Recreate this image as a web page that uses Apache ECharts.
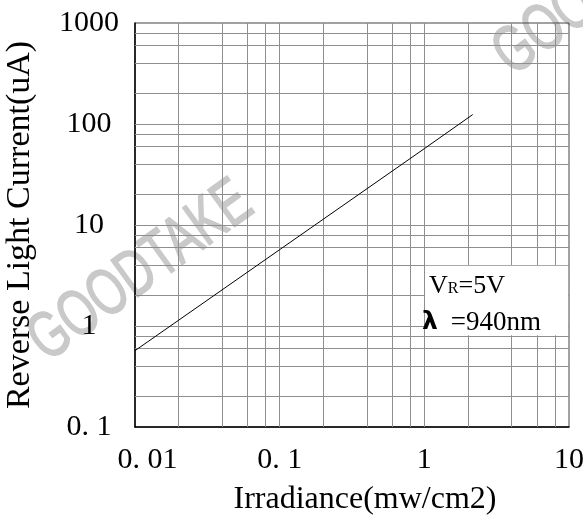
<!DOCTYPE html>
<html>
<head>
<meta charset="utf-8">
<script src="https://cdn.jsdelivr.net/npm/echarts@6/dist/echarts.min.js"></script>
<style>html,body{margin:0;padding:0;background:#fff;}#c{width:583px;height:515px;}</style>
</head>
<body>
<div id="c"></div>
<script>
// ---- data ----
const xTicks = [0.01, 0.1, 1, 10];
const xTickLabels = ['0. 01', '0. 1', '1', '10'];
const yTicks = [0.1, 1, 10, 100, 1000];
const yTickLabels = ['0. 1', '1', '10', '100', '1000'];
const xGridValues = [0.02, 0.04, 0.06, 0.08, 0.1, 0.2, 0.4, 0.6, 0.8, 1, 2, 4, 6, 8];
const yGridValues = [0.2, 0.4, 0.6, 0.8, 1, 2, 4, 6, 8, 10, 20, 40, 60, 80, 100, 200, 400, 600, 800];
const irradiance = [0.01, 0.1, 1, 2.16];
const current = [0.57, 5.7, 57, 124];
const xTitle = 'Irradiance(mw/cm2)';
const yTitle = 'Reverse Light Current(uA)';
const noteBox = [[1.012, 0.81], [9.85, 3.95]];
const watermark = 'GOODTAKE';

const SERIF = '"Liberation Serif", "Times New Roman", serif';
function idxOf(ticks, v) {
  return ticks.findIndex(t => Math.abs(Math.log10(t) - Math.log10(v)) < 1e-6);
}
const wmStyle = {text: watermark, x: 0, y: 0, align: 'center', verticalAlign: 'middle',
  fill: '#c9c9c9', stroke: '#c9c9c9', lineWidth: 1.6, fontSize: 66,
  fontFamily: '"Liberation Sans", Arial, sans-serif'};

const chart = echarts.init(document.getElementById('c'), null, {renderer: 'canvas'});
chart.setOption({
  animation: false,
  backgroundColor: '#fff',
  grid: {left: 135, right: 14, top: 23, bottom: 88, show: true, borderColor: '#444', borderWidth: 1,
    containLabel: false, outerBoundsMode: 'none'},
  xAxis: {
    type: 'log', logBase: 10, min: 0.01, max: 10,
    axisLine: {show: true, lineStyle: {color: '#000', width: 1.5}},
    axisTick: {show: false},
    splitLine: {show: false},
    axisLabel: {
      fontFamily: SERIF, fontSize: 30, color: '#000', margin: 33, verticalAlign: 'middle',
      formatter: v => { const i = idxOf(xTicks, v); if (i < 0) return ''; return i === 0 ? '{m|' + xTickLabels[i] + '}' : xTickLabels[i]; },
      rich: {m: {fontFamily: SERIF, fontSize: 30, color: '#000', padding: [0, 0, 0, 25]}}
    },
    name: xTitle, nameLocation: 'middle', nameGap: 57,
    nameTextStyle: {fontFamily: SERIF, fontSize: 32, color: '#000', padding: [0, 0, 0, 26]}
  },
  yAxis: {
    type: 'log', logBase: 10, min: 0.1, max: 1000,
    axisLine: {show: true, lineStyle: {color: '#000', width: 1.5}},
    axisTick: {show: false},
    splitLine: {show: false},
    axisLabel: {
      fontFamily: SERIF, fontSize: 30, color: '#000', margin: 46, align: 'center',
      formatter: v => { const i = idxOf(yTicks, v); return i < 0 ? '' : yTickLabels[i]; }
    },
    name: yTitle, nameLocation: 'middle', nameGap: 98,
    nameTextStyle: {fontFamily: SERIF, fontSize: 34, color: '#000'}
  },
  series: [
    {
      type: 'line', z: 1, silent: true, data: [],
      markLine: {
        z: 2,
        silent: true, symbol: ['none', 'none'], animation: false,
        label: {show: false},
        lineStyle: {color: '#8e8e8e', width: 1, type: 'solid'},
        emphasis: {disabled: true},
        data: xGridValues.map(v => ({xAxis: v})).concat(yGridValues.map(v => ({yAxis: v})))
      }
    },
    {
      type: 'line', z: 3, silent: true,
      data: irradiance.map((x, i) => [x, current[i]]),
      showSymbol: false, symbol: 'none',
      lineStyle: {color: '#000', width: 1},
      markArea: {
        z: 4,
        silent: true,
        itemStyle: {color: '#fff', borderWidth: 0, opacity: 1},
        emphasis: {disabled: true},
        label: {
          show: true, position: 'insideLeft', distance: 0, offset: [-3, 4],
          align: 'left', verticalAlign: 'middle',
          formatter: '{v|V}{sub|R}{n|=5V}\n{lam|λ}{n2| =940nm}',
          rich: {
            v: {fontFamily: SERIF, fontSize: 26, color: '#000', lineHeight: 37, padding: [0, 0, 0, 7]},
            sub: {fontFamily: SERIF, fontSize: 16, color: '#000', padding: [5, 0, 0, 0]},
            n: {fontFamily: SERIF, fontSize: 26, color: '#000', lineHeight: 37},
            n2: {fontFamily: SERIF, fontSize: 27, color: '#000', lineHeight: 37},
            lam: {fontFamily: '"DejaVu Sans", sans-serif', fontWeight: 'bold', fontSize: 25, color: '#000', lineHeight: 37, width: 22}
          }
        },
        data: [[{coord: noteBox[0]}, {coord: noteBox[1]}]]
      }
    }
  ],
  graphic: [
    {type: 'text', x: 141, y: 272, rotation: 36 * Math.PI / 180, scaleX: 0.7, z: -1, silent: true, style: wmStyle},
    {type: 'text', x: 606, y: -14, rotation: 36 * Math.PI / 180, scaleX: 0.7, z: -1, silent: true, style: wmStyle}
  ]
});
</script>
</body>
</html>
